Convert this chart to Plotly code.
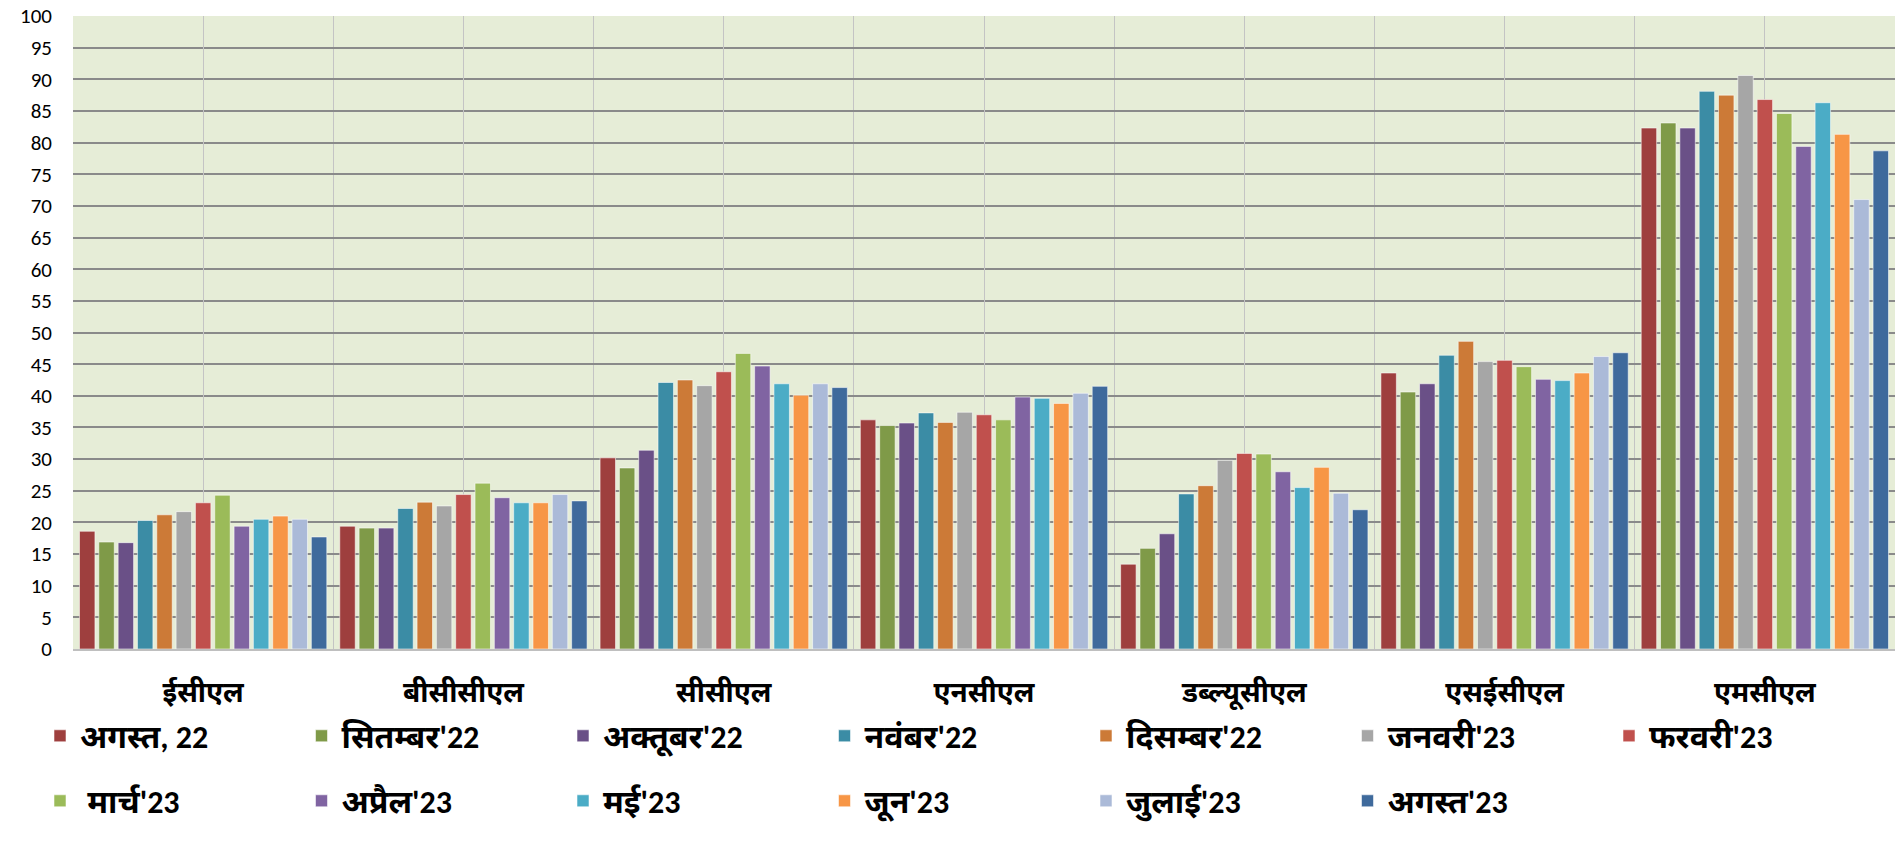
import plotly.graph_objects as go

categories = ["ईसीएल", "बीसीसीएल", "सीसीएल", "एनसीएल", "डब्ल्यूसीएल", "एसईसीएल", "एमसीएल"]

month_labels = ["अगस्त, 22", "सितम्बर'22", "अक्तूबर'22", "नवंबर'22", "दिसम्बर'22",
                "जनवरी'23", "फरवरी'23", " मार्च'23", "अप्रैल'23", "मई'23",
                "जून'23", "जुलाई'23", "अगस्त'23"]

aug22 = [18.6, 19.4, 30.2, 36.2, 13.4, 43.6, 82.3]
sep22 = [16.9, 19.1, 28.6, 35.3, 15.9, 40.6, 83.1]
oct22 = [16.8, 19.1, 31.4, 35.7, 18.2, 41.9, 82.3]
nov22 = [20.3, 22.2, 42.1, 37.3, 24.5, 46.4, 88.1]
dec22 = [21.2, 23.2, 42.5, 35.8, 25.8, 48.6, 87.5]
jan23 = [21.7, 22.6, 41.6, 37.4, 29.8, 45.4, 90.6]
feb23 = [23.1, 24.4, 43.8, 37.0, 30.9, 45.6, 86.8]
mar23 = [24.3, 26.2, 46.7, 36.2, 30.8, 44.6, 84.6]
apr23 = [19.4, 23.9, 44.7, 39.8, 28.0, 42.6, 79.4]
may23 = [20.5, 23.1, 41.9, 39.6, 25.5, 42.4, 86.3]
jun23 = [21.0, 23.1, 40.1, 38.8, 28.7, 43.6, 81.3]
jul23 = [20.5, 24.4, 41.9, 40.4, 24.6, 46.2, 71.0]
aug23 = [17.7, 23.4, 41.3, 41.5, 22.0, 46.8, 78.7]

series = [aug22, sep22, oct22, nov22, dec22, jan23, feb23,
          mar23, apr23, may23, jun23, jul23, aug23]

colors = ["#9E3F3E", "#7F9A48", "#6A5087", "#3B8CA5", "#CC7A37", "#A6A6A6", "#C0504D",
          "#9BBB59", "#8064A2", "#4BACC6", "#F79646", "#ABBAD8", "#3F6A9C"]

TXT = "Calibri, Carlito, 'Noto Sans Devanagari', 'Noto Sans', Lato, sans-serif"
W, H = 1895, 844
PER_ROW = 7
LEG_X0 = 40          # px, left of first legend entry
LEG_DX = 261.5       # px between legend columns
LEG_ROWS_Y = [736, 801]  # px from top, centre of each legend row

fig = go.Figure()
legends = {}
for i, (name, vals, col) in enumerate(zip(month_labels, series, colors)):
    key = "legend" if i == 0 else f"legend{i + 1}"
    fig.add_trace(go.Bar(
        x=categories, y=vals, name=name,
        legend=key,
        marker=dict(color=col, line=dict(color="rgba(255,255,255,0.55)", width=1)),
    ))
    row, colpos = divmod(i, PER_ROW)
    legends[key] = dict(
        orientation="h",
        xref="container", yref="container",
        x=(LEG_X0 + colpos * LEG_DX) / W,
        y=1 - LEG_ROWS_Y[row] / H,
        xanchor="left", yanchor="middle",
        font=dict(size=32, family=TXT, weight="bold"),
        bgcolor="rgba(0,0,0,0)",
        itemclick=False, itemdoubleclick=False,
    )

# helper trace for the centre gridlines axis
fig.add_trace(go.Scatter(x=list(range(len(categories))), y=[None] * len(categories),
                         xaxis="x2", showlegend=False, hoverinfo="skip", mode="lines"))

fig.update_layout(
    width=W, height=H,
    margin=dict(l=73, r=0, t=16, b=195, autoexpand=False),
    paper_bgcolor="white",
    plot_bgcolor="#E6EDD7",
    barmode="group",
    bargap=0.035,
    bargroupgap=0.2,
    font=dict(family=TXT, color="black"),
    xaxis=dict(
        type="category",
        tickson="boundaries",
        showgrid=True, gridcolor="#C4C4C4", gridwidth=1,
        ticks="", showline=True, linecolor="#BFBFBF", linewidth=2,
        tickfont=dict(size=28, family=TXT, weight="bold"),
        ticklabelstandoff=17,
    ),
    xaxis2=dict(
        overlaying="x", anchor="y",
        range=[-0.5, len(categories) - 0.5],
        tick0=0, dtick=1,
        showgrid=True, gridcolor="#C4C4C4", gridwidth=1,
        showticklabels=False, ticks="", zeroline=False, showline=False,
    ),
    yaxis=dict(
        range=[0, 100], dtick=5,
        showgrid=True, gridcolor="#8A8A8A", gridwidth=1.5,
        zeroline=False, showline=False, ticks="",
        tickfont=dict(size=21, family=TXT),
        ticklabelstandoff=20,
    ),
    showlegend=True,
    **legends,
)

fig.write_html("out.html",
               config={"displayModeBar": False},
               post_script="document.body.style.margin='0';document.body.style.overflow='hidden';")
